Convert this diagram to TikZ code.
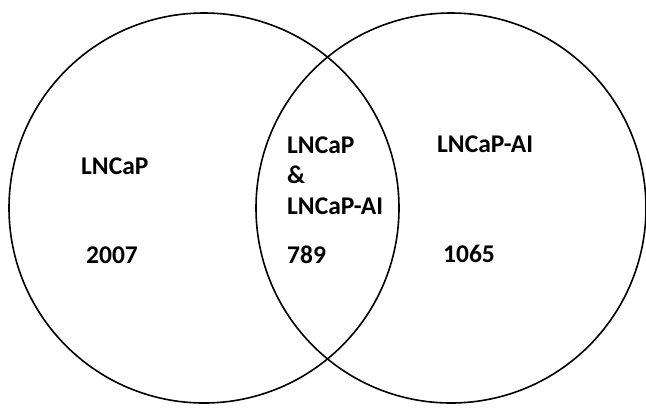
\documentclass[tikz,border=0pt]{standalone}
\usepackage{fontspec}
\setmainfont{Carlito}
\begin{document}
\begin{tikzpicture}[x=1pt,y=-1pt,
  setcircle/.style={circle,draw=black,line width=1.6pt,minimum size=390pt,inner sep=0pt},
  lbl/.style={anchor=base west,inner sep=0pt,font=\fontsize{25.5}{30}\selectfont\bfseries,text=black}]
\useasboundingbox (0,0) rectangle (646,408);
\node[setcircle] (L) at (204,208) {};
\node[setcircle] (R) at (451,208) {};
\node[lbl] (t1) at (81,174) {LNCaP};
\node[lbl] (n1) at (86,263) {2007};
\node[lbl] (t2) at (287,153) {LNCaP};
\node[lbl] (t3) at (287,183) {\&};
\node[lbl] (t4) at (287,214) {LNCaP-AI};
\node[lbl] (n2) at (287,263) {789};
\node[lbl] (t5) at (437,152) {LNCaP-AI};
\node[lbl] (n3) at (443,262) {1065};
\end{tikzpicture}
\end{document}
